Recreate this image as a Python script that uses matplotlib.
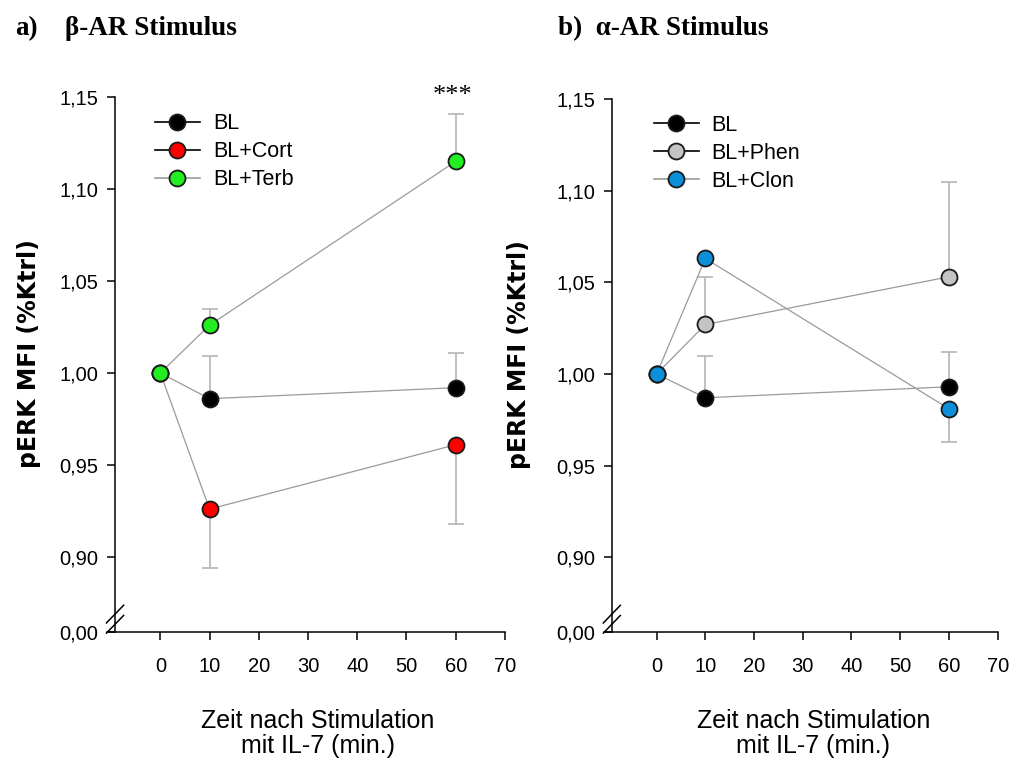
import matplotlib
matplotlib.use("Agg")
import matplotlib.pyplot as plt
from matplotlib.lines import Line2D

# time points (min after IL-7 stimulation)
time = [0, 10, 60]

# a) beta-AR stimulus
a_bl = [1.000, 0.986, 0.992]
a_bl_up = [0, 0.023, 0.019]
a_cort = [1.000, 0.926, 0.961]
a_cort_down = [0, 0.032, 0.043]
a_terb = [1.000, 1.026, 1.115]
a_terb_up = [0, 0.009, 0.026]

# b) alpha-AR stimulus
b_bl = [1.000, 0.987, 0.993]
b_bl_up = [0, 0.023, 0.019]
b_phen = [1.000, 1.027, 1.053]
b_phen_up = [0, 0.026, 0.052]
b_clon = [1.000, 1.063, 0.981]
b_clon_down = [0, 0, 0.018]

yticks = [0.8592, 0.90, 0.95, 1.00, 1.05, 1.10, 1.15]
ytick_labels = ["0,00", "0,90", "0,95", "1,00", "1,05", "1,10", "1,15"]
xticks = [0, 10, 20, 30, 40, 50, 60, 70]

plt.rcParams['font.family'] = ['Liberation Sans', 'DejaVu Sans']

fig = plt.figure(figsize=(10.18, 7.6), dpi=100)

LINE_C = '#9a9a9a'
ERR_C = '#b5b5b5'


def series(ax, y, up, down, color):
    ax.errorbar(time, y, yerr=[down, up], fmt='none', ecolor=ERR_C,
                elinewidth=1.2, capsize=5.5, capthick=1.2, zorder=1)
    ax.plot(time, y, color=LINE_C, lw=0.9, zorder=2)
    ax.plot(time, y, 'o', ms=11.5, mfc=color, mec='#1a1a1a', mew=1.3,
            zorder=3, clip_on=False)


def setup(ax):
    ax.set_xlim(-9.2, 70)
    ax.set_ylim(yticks[0], 1.15)
    for s in ['top', 'right']:
        ax.spines[s].set_visible(False)
    ax.spines['bottom'].set_bounds(-10.8, 70)
    ax.spines['left'].set_linewidth(1.1)
    ax.spines['bottom'].set_linewidth(1.1)
    ax.set_xticks(xticks)
    ax.set_yticks(yticks)
    ax.set_yticklabels(ytick_labels)
    ax.tick_params(direction='out', length=6, width=1.1, labelsize=14.5, pad=6)
    ax.tick_params(axis='x', pad=12)
    # axis break marks
    for y0 in [-0.002, 0.017]:
        ax.plot([-0.022, 0.022], [y0, y0 + 0.033], transform=ax.transAxes,
                color='k', lw=1.1, clip_on=False)
    ax.set_ylabel('pERK MFI (%Ktrl)', family='DejaVu Sans', fontweight='bold',
                  fontsize=17)


def legend(ax, labels, colors, anchor):
    handles = []
    for lab, c, lc in zip(labels, colors, ['k', 'k', LINE_C]):
        handles.append(Line2D([0], [0], color=lc, lw=1.2, marker='o', ms=11.5,
                              mfc=c, mec='#1a1a1a', mew=1.3))
    ax.legend(handles, labels, loc='upper left', bbox_to_anchor=anchor,
              bbox_transform=fig.transFigure, frameon=False, fontsize=15.5,
              handlelength=2.1, handletextpad=0.6, labelspacing=0.33,
              borderpad=0, borderaxespad=0)


# panel a
ax1 = fig.add_axes([0.113, 0.1684, 0.383, 0.704])
setup(ax1)
series(ax1, a_bl, a_bl_up, [0, 0, 0], 'black')
series(ax1, a_cort, [0, 0, 0], a_cort_down, '#ff0000')
series(ax1, a_terb, a_terb_up, [0, 0, 0], '#22ee22')
ax1.yaxis.set_label_coords(-0.19, 0.52)
legend(ax1, ['BL', 'BL+Cort', 'BL+Terb'], ['black', '#ff0000', '#22ee22'],
       (0.152, 0.851))
ax1.text(59.3, 1.1475, '***', ha='center', va='baseline', fontsize=19,
         family='Liberation Serif')

# panel b
ax2 = fig.add_axes([0.601, 0.1684, 0.379, 0.7013])
setup(ax2)
series(ax2, b_bl, b_bl_up, [0, 0, 0], 'black')
series(ax2, b_phen, b_phen_up, [0, 0, 0], '#c4c4c4')
series(ax2, b_clon, [0, 0, 0], b_clon_down, '#0b8fd8')
ax2.yaxis.set_label_coords(-0.21, 0.52)
legend(ax2, ['BL', 'BL+Phen', 'BL+Clon'], ['black', '#c4c4c4', '#0b8fd8'],
       (0.642, 0.849))

# x labels and titles
for x in [0.312, 0.799]:
    fig.text(x, 0.035, 'Zeit nach Stimulation\nmit IL-7 (min.)', ha='center',
             va='center', fontsize=18, linespacing=1.08)

fig.text(0.015, 0.963, 'a)', fontsize=19.5, fontweight='bold',
         family='Liberation Serif', va='center')
fig.text(0.064, 0.963, '\u03b2-AR Stimulus', fontsize=19.5, fontweight='bold',
         family='Liberation Serif', va='center')
fig.text(0.548, 0.963, 'b)  \u03b1-AR Stimulus', fontsize=19.5,
         fontweight='bold', family='Liberation Serif', va='center')

plt.savefig('out.png', dpi=100)
